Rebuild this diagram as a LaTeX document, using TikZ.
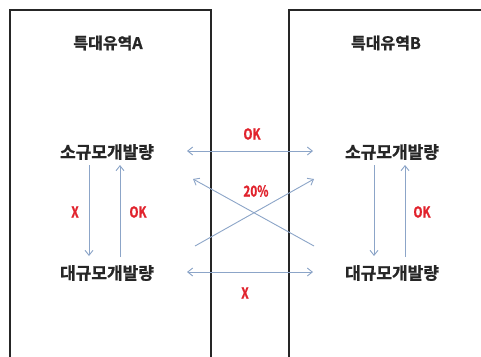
\documentclass[tikz,border=0pt]{standalone}
\usepackage{fontspec}
\newfontfamily\krfont[FakeBold=1.2]{Noto Sans CJK KR Bold}
\newfontfamily\krtitle[FakeBold=1.2]{Noto Sans CJK KR Bold}
\newfontfamily\tagfont[FakeBold=1,FakeStretch=0.78]{Noto Sans CJK KR Bold}
\usetikzlibrary{arrows.meta}
\definecolor{arr}{RGB}{140,165,200}
\definecolor{lab}{RGB}{225,35,45}
\tikzset{
  box/.style={line width=2pt, draw=black!85},
  conn/.style={draw=arr, line width=0.9pt, -{Straight Barb[length=5pt,width=8pt]}},
  dconn/.style={draw=arr, line width=0.9pt, {Straight Barb[length=5pt,width=8pt]}-{Straight Barb[length=5pt,width=8pt]}},
  title/.style={font=\krtitle\fontsize{16}{18}\selectfont, text=black!85, inner sep=0pt},
  item/.style={font=\krfont\fontsize{17}{19}\selectfont, text=black!85, inner sep=0pt},
  tag/.style={font=\tagfont\fontsize{15}{17}\selectfont, text=lab, inner sep=0pt}
}
\begin{document}
\begin{tikzpicture}[x=1pt,y=-1pt]
\useasboundingbox (0,0) rectangle (481,356);
\fill[white] (0,0) rectangle (481,356);
% boxes
\draw[box] (10,360) -- (10,10) -- (211,10) -- (211,360);
\draw[box] (289,360) -- (289,10) -- (485,10);
% titles
\node[title] (ta) at (108,43) {특대유역A};
\node[title] (tb) at (386,43) {특대유역B};
% items
\node[item] (sa) at (107,152) {소규모개발량};
\node[item] (la) at (107,273) {대규모개발량};
\node[item] (sb) at (392,152) {소규모개발량};
\node[item] (lb) at (392,273) {대규모개발량};
% coordinates for connectors
\coordinate (a1t) at (89,165); \coordinate (a1b) at (89,256);
\coordinate (a2t) at (120,165); \coordinate (a2b) at (120,257);
\coordinate (b1t) at (374,165); \coordinate (b1b) at (374,256);
\coordinate (b2t) at (405,165); \coordinate (b2b) at (405,257);
\coordinate (hl1) at (187,151); \coordinate (hr1) at (313,151);
\coordinate (hl2) at (187,272); \coordinate (hr2) at (313,272);
\coordinate (xl1) at (195,246); \coordinate (xr1) at (314,179);
\coordinate (xr2) at (314,246); \coordinate (xl2) at (193,179);
% vertical arrows
\draw[conn] (a1t) -- (a1b);
\draw[conn] (a2b) -- (a2t);
\draw[conn] (b1t) -- (b1b);
\draw[conn] (b2b) -- (b2t);
% horizontal arrows
\draw[dconn] (hl1) -- (hr1);
\draw[dconn] (hl2) -- (hr2);
% cross arrows
\draw[conn] (xl1) -- (xr1);
\draw[conn] (xr2) -- (xl2);
% tags
\node[tag] (t1) at (75,212) {X};
\node[tag] (t2) at (138,212) {OK};
\node[tag] (t3) at (422,212) {OK};
\node[tag] (t4) at (252,134) {OK};
\node[tag] (t5) at (256,191) {20\%};
\node[tag] (t6) at (245,293) {X};
\end{tikzpicture}
\end{document}
